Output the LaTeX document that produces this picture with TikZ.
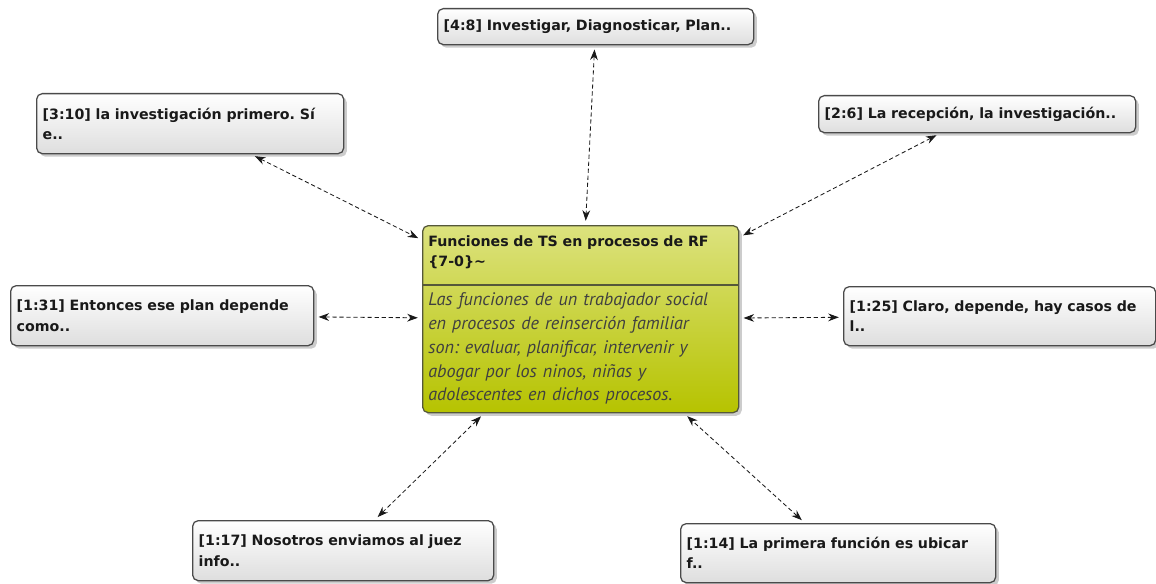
\documentclass[tikz,border=0pt]{standalone}
\usepackage{fontspec}
\setmainfont{DejaVu Sans}
\newfontfamily\memofont{PT Sans}
\usetikzlibrary{shadows,arrows.meta}
\definecolor{boxline}{HTML}{4A4A4A}
\definecolor{coretop}{HTML}{DCE27E}
\definecolor{corebot}{HTML}{B6C300}
\definecolor{coreline}{HTML}{55583A}
\frenchspacing
\begin{document}
\begin{tikzpicture}[x=0.025cm,y=-0.025cm]
\tikzstyle{every node}+=[font=\bfseries\fontsize{10.1}{14.4}\selectfont, text=black!90]
\tikzstyle{quote}=[draw=boxline, line width=0.9pt, rounded corners=4pt, top color=white, bottom color=black!13, drop shadow={shadow xshift=2.2pt, shadow yshift=-2.2pt, opacity=0.4}, anchor=north west, align=left, inner xsep=0.15cm, inner ysep=0pt]
\tikzstyle{link}=[densely dashed, black!90, line width=0.6pt, {Stealth[length=7.5pt,width=5.5pt]}-{Stealth[length=7.5pt,width=5.5pt]}, shorten <=3pt, shorten >=3pt]
\useasboundingbox (0,0) rectangle (1156,584);
\node [quote, text width=7.6cm, minimum height=0.9cm] (t48) at (437,8) {[4:8] Investigar, Diagnosticar, Plan..};
\node [quote, text width=7.375cm, minimum height=1.5cm] (t310) at (36,93) {[3:10] la investigación primero. Sí\\e..};
\node [quote, text width=7.625cm, minimum height=0.925cm] (t26) at (818,95) {[2:6] La recepción, la investigación..};
\node [quote, text width=7.275cm, minimum height=1.5cm] (t131) at (10,285) {[1:31] Entonces ese plan depende\\como..};
\node [quote, text width=7.5cm, minimum height=1.475cm] (t125) at (843,286) {[1:25] Claro, depende, hay casos de\\l..};
\node [quote, text width=7.225cm, minimum height=1.5cm] (t117) at (192,520) {[1:17] Nosotros enviamos al juez\\info..};
\node [quote, text width=7.575cm, minimum height=1.475cm] (t114) at (680,523) {[1:14] La primera función es ubicar\\f..};
\node [quote, draw=coreline, top color=coretop, bottom color=corebot, minimum width=7.9cm, minimum height=4.675cm, inner sep=0pt] (core) at (422,225) {};
\path (0,285) coordinate (dv);
\draw [coreline, line width=0.8pt] (core.west |- dv) -- (core.east |- dv);
\node [anchor=north west, text width=7.6cm, align=left, inner xsep=0.15cm, inner ysep=0.25cm] (ttl) at (core.north west) {Funciones de TS en procesos de RF\\\{7-0\}\textasciitilde};
\node [anchor=north west, text width=7.6cm, align=left, inner xsep=0.15cm, inner ysep=0.19cm, font=\memofont\itshape\fontsize{12.9}{16.9}\selectfont, text=black!75] (memo) at (core.west |- dv) {Las funciones de un trabajador social\\en procesos de reinserción familiar\\son: evaluar, planificar, intervenir y\\abogar por los ninos, niñas y\\adolescentes en dichos procesos.};
\draw [link] (t48) -- (core);
\draw [link] (t310) -- (core);
\draw [link] (t26) -- (core);
\draw [link] (t131) -- (core);
\draw [link] (t125) -- (core);
\draw [link] (t117) -- (core);
\draw [link] (t114) -- (core);
\end{tikzpicture}
\end{document}
